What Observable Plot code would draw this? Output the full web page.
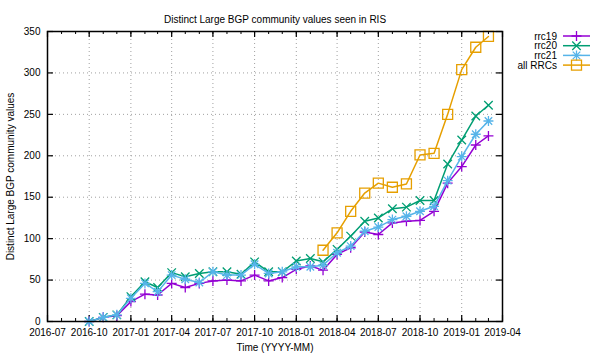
<!DOCTYPE html>
<html><head><meta charset="utf-8">
<script src="https://cdn.jsdelivr.net/npm/d3@7"></script>
<script src="https://cdn.jsdelivr.net/npm/@observablehq/plot@0.6"></script>
<style>
html,body{margin:0;padding:0;background:#fff;}
svg{display:block;}
</style>
</head><body><div id="chart"></div>
<script>
// ---- data ----
const months = ["2016-10","2016-11","2016-12","2017-01","2017-02","2017-03","2017-04","2017-05","2017-06","2017-07","2017-08","2017-09","2017-10","2017-11","2017-12","2018-01","2018-02","2018-03","2018-04","2018-05","2018-06","2018-07","2018-08","2018-09","2018-10","2018-11","2018-12","2019-01","2019-02","2019-03"];
const rrc19 = [0,5,7,24,33,32,46,41,46,49,50,49,56,49,53,63,67,62,81,89,108,105,119,121,122,133,167,187,213,224];
const rrc20 = [0,5,8,30,48,41,59,54,58,60,60,57,72,60,60,73,76,72,87,103,121,125,136,138,146,146,190,219,248,261];
const rrc21 = [0,5,8,28,46,36,56,51,47,60,56,56,69,58,60,66,66,68,83,91,109,114,123,127,133,139,170,199,226,242];
const allMonths = ["2018-03","2018-04","2018-05","2018-06","2018-07","2018-08","2018-09","2018-10","2018-11","2018-12","2019-01","2019-02","2019-03"];
const allRRCs = [86,107,133,155,167,162,166,201,203,250,304,331,344];
const seriesNames = ["rrc19","rrc20","rrc21","all RRCs"];
const seriesColors = ["#9400d3","#009e73","#56b4e9","#e69f00"];
const xTickLabels = ["2016-07","2016-10","2017-01","2017-04","2017-07","2017-10","2018-01","2018-04","2018-07","2018-10","2019-01","2019-04"];
const yTicks = [0,50,100,150,200,250,300,350];
const titleText = "Distinct Large BGP community values seen in RIS";
const xLabel = "Time (YYYY-MM)";
const yLabel = "Distinct Large BGP community values";

// ---- build ----
const parse = d3.utcParse("%Y-%m");
const rows = [];
[[rrc19,months],[rrc20,months],[rrc21,months],[allRRCs,allMonths]].forEach(([vals,ms],i) => {
  vals.forEach((v,j) => rows.push({series: seriesNames[i], date: parse(ms[j]), value: v}));
});
const xTicks = xTickLabels.map(parse);
const minorTicks = d3.utcMonth.range(xTicks[0], d3.utcMonth.offset(xTicks[xTicks.length-1],1));

const sym = {
  plus: {draw(c, s){const r=Math.sqrt(s/Math.PI); c.moveTo(-r,0); c.lineTo(r,0); c.moveTo(0,-r); c.lineTo(0,r);}},
  times: {draw(c, s){const r=Math.sqrt(s/Math.PI)*0.85; c.moveTo(-r,-r); c.lineTo(r,r); c.moveTo(-r,r); c.lineTo(r,-r);}},
  star: {draw(c, s){const r=Math.sqrt(s/Math.PI); const q=r*0.75; c.moveTo(-r,0); c.lineTo(r,0); c.moveTo(0,-r); c.lineTo(0,r); c.moveTo(-q,-q); c.lineTo(q,q); c.moveTo(-q,q); c.lineTo(q,-q);}},
  square: {draw(c, s){const r=Math.sqrt(s/Math.PI); c.moveTo(-r,-r); c.lineTo(r,-r); c.lineTo(r,r); c.lineTo(-r,r); c.closePath();}}
};
const seriesSymbols = [sym.plus, sym.times, sym.star, sym.square];

const W = 600, H = 360, mL = 47, mR = 98, mT = 31, mB = 39;
const pw = W - mL - mR, ph = H - mT - mB;
const font = "'Liberation Sans', Arial, Helvetica, sans-serif";

const seriesMarks = seriesNames.flatMap((name, i) => {
  const data = rows.filter(r => r.series === name);
  return [
    Plot.line(data, {x: "date", y: "value", stroke: seriesColors[i], strokeWidth: 1.5}),
    Plot.dot(data, {x: "date", y: "value", stroke: seriesColors[i], fill: "none", r: 5, strokeWidth: 1.3, symbol: seriesSymbols[i]})
  ];
});

const chart = Plot.plot({
  width: W, height: H,
  marginLeft: mL, marginRight: mR, marginTop: mT, marginBottom: mB,
  style: {fontFamily: font, fontSize: "10px", background: "white", color: "black"},
  x: {type: "utc", domain: [xTicks[0], xTicks[xTicks.length-1]], axis: null},
  y: {domain: [0, 350], axis: null},
  marks: [
    Plot.ruleX(xTicks.slice(1, -1), {x: d => d, stroke: "#a0a0a0", strokeDasharray: "1,3", strokeWidth: 1}),
    Plot.ruleY(yTicks.slice(1, -1), {y: d => d, stroke: "#a0a0a0", strokeDasharray: "1,3", strokeWidth: 1}),
    // minor ticks (x, bottom & top)
    Plot.tickX(minorTicks, {x: d => d, insetTop: ph - 3, stroke: "black"}),
    Plot.tickX(minorTicks, {x: d => d, insetBottom: ph - 3, stroke: "black"}),
    // major ticks
    Plot.tickX(xTicks, {x: d => d, insetTop: ph - 6, stroke: "black", strokeWidth: 1.2}),
    Plot.tickX(xTicks, {x: d => d, insetBottom: ph - 6, stroke: "black", strokeWidth: 1.2}),
    Plot.tickY(yTicks, {y: d => d, insetRight: pw - 6, stroke: "black", strokeWidth: 1.2}),
    Plot.tickY(yTicks, {y: d => d, insetLeft: pw - 6, stroke: "black", strokeWidth: 1.2}),
    ...seriesMarks,
    Plot.frame({stroke: "black", strokeWidth: 1.5}),
    // tick labels
    Plot.text(xTicks, {x: d => d, text: (d, i) => xTickLabels[i], frameAnchor: "bottom", lineAnchor: "top", dy: 7, fill: "black"}),
    Plot.text(yTicks, {y: d => d, text: d => String(d), frameAnchor: "left", textAnchor: "end", dx: -7, fill: "black"}),
    // titles
    Plot.text([titleText], {text: d => d, frameAnchor: "top", lineAnchor: "bottom", dy: -9, fill: "black"}),
    Plot.text([xLabel], {text: d => d, frameAnchor: "bottom", lineAnchor: "top", dy: 22, fill: "black"}),
    Plot.text([yLabel], {text: d => d, frameAnchor: "left", textAnchor: "middle", rotate: -90, dx: -37, fill: "black"})
  ]
});

// legend (gnuplot-style key, outside right)
const svg = d3.select(chart);
const key = svg.append("g").attr("font-family", font).attr("font-size", 10);
seriesNames.forEach((name, i) => {
  const cy = 36 + i * 9.7;
  key.append("text").attr("x", 557).attr("y", cy).attr("dy", "0.35em").attr("text-anchor", "end").attr("fill", "black").text(name);
  key.append("line").attr("x1", 563).attr("x2", 590).attr("y1", cy).attr("y2", cy).attr("stroke", seriesColors[i]).attr("stroke-width", 1.5);
  const p = d3.path();
  seriesSymbols[i].draw(p, 25 * Math.PI);
  key.append("path").attr("d", p.toString()).attr("transform", `translate(576.5,${cy})`).attr("fill", "none").attr("stroke", seriesColors[i]).attr("stroke-width", 1.3);
});

document.getElementById("chart").appendChild(chart);
</script>
</body></html>
